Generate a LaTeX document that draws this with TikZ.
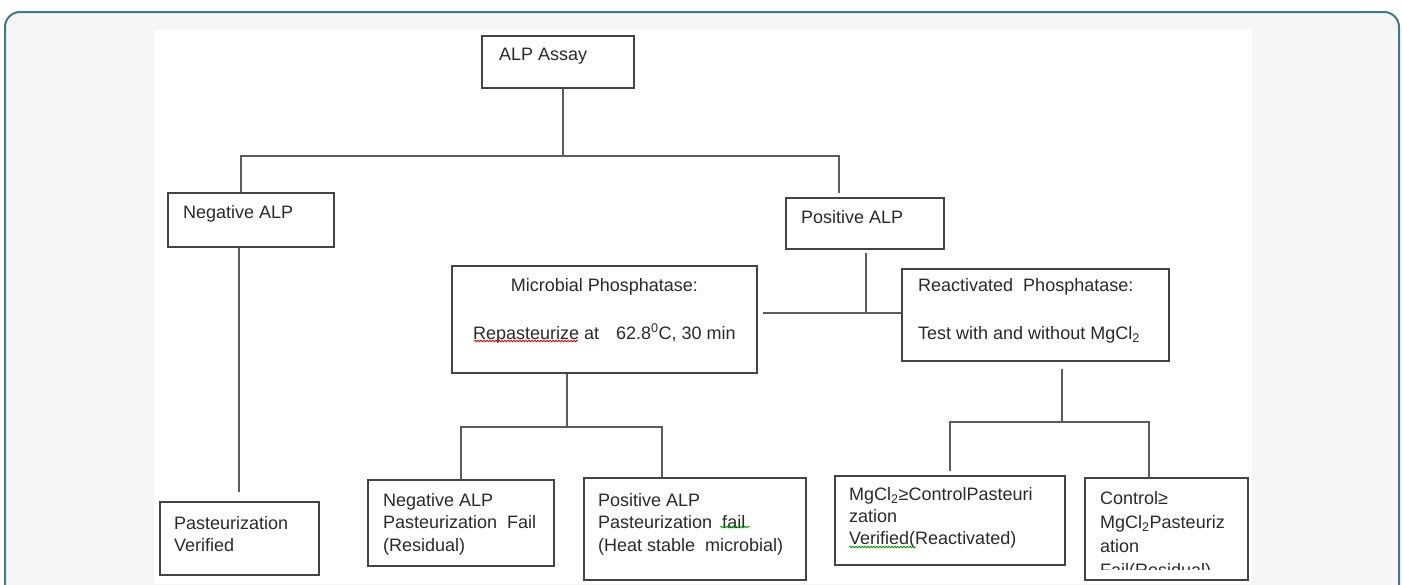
\documentclass[tikz,border=0pt]{standalone}
\usepackage{fontspec}
\setmainfont{Liberation Sans}
\usetikzlibrary{positioning,calc,decorations.pathmorphing}
\definecolor{frameline}{HTML}{3D7A8C}
\definecolor{framefill}{HTML}{F5F6F5}
\definecolor{boxline}{HTML}{444444}
\definecolor{linkline}{HTML}{5C5C5C}
\definecolor{inktext}{HTML}{2A2A2A}
\tikzstyle{stage} = [ draw = boxline, line width = 1.8pt, rectangle, anchor = north west, inner sep = 0pt]
\tikzstyle{boxtext} = [ anchor = north west, inner sep = 0pt, align = left, text = inktext, font = \fontsize{18}{22.5}\selectfont]
\tikzstyle{link} = [ draw = linkline, line width = 2pt]
\tikzstyle{squiggle} = [ decorate, decoration = {snake, amplitude = 0.8pt, segment length = 3pt}, line width = 0.8pt]

\begin{document}
\begin{tikzpicture}[x=1pt, y=-1pt]
	\useasboundingbox (0,0) rectangle (1402,584);
	\clip (0,0) rectangle (1402,584);
	\draw[frameline, fill=framefill, line width=2pt, rounded corners=15pt] (5,12) rectangle (1399,640);
	\fill[white] (154,30) rectangle (1252,584);

	% boxes
	\node[stage, minimum width=152, minimum height=52] (assay) at ( 481, 35 ) {};
	\node[stage, minimum width=166, minimum height=54] (neg) at ( 167, 192 ) {};
	\node[stage, minimum width=158, minimum height=51] (pos) at ( 785, 197 ) {};
	\node[stage, minimum width=305, minimum height=107] (micro) at ( 451, 265 ) {};
	\node[stage, minimum width=267, minimum height=92] (react) at ( 901, 268 ) {};
	\node[stage, minimum width=159, minimum height=73] (verif) at ( 159, 501 ) {};
	\node[stage, minimum width=186, minimum height=86] (negf) at ( 367, 479 ) {};
	\node[stage, minimum width=222, minimum height=102] (posf) at ( 583, 477 ) {};
	\node[stage, minimum width=230, minimum height=89] (mg) at ( 834, 475 ) {};
	\node[stage, minimum width=163, minimum height=102] (ctrl) at ( 1084, 477 ) {};

	% texts
	\node[boxtext] (assay-t) at ([shift={(18,13)}]assay.north west) {ALP Assay};
	\node[boxtext] (neg-t) at ([shift={(16,13)}]neg.north west) {Negative ALP};
	\node[boxtext] (pos-t) at ([shift={(16,13)}]pos.north west) {Positive ALP};
	\node[boxtext, anchor=north, align=center] (micro-t) at ([yshift=-13pt]micro.north) {Microbial Phosphatase:\\[25.5pt]Repasteurize at\hspace{17pt}62.8\textsuperscript{0}C, 30 min};
	\node[boxtext] (react-t) at ([shift={(17,10)}]react.north west) {Reactivated\ \ Phosphatase:\\[26pt]Test with and without MgCl\textsubscript{2}};
	\node[boxtext] (verif-t) at ([shift={(15,15)}]verif.north west) {Pasteurization\\Verified};
	\node[boxtext] (negf-t) at ([shift={(16,14)}]negf.north west) {Negative ALP\\Pasteurization\ \ Fail\\(Residual)};
	\node[boxtext] (posf-t) at ([shift={(15,16)}]posf.north west) {Positive ALP\\Pasteurization\ \ fail\\(Heat stable\ \ microbial)};
	\node[boxtext, font=\fontsize{18}{22}\selectfont] (mg-t) at ([shift={(15,12)}]mg.north west) {MgCl\textsubscript{2}≥ControlPasteuri\\zation\\Verified(Reactivated)};
	\begin{scope}
		\clip ([shift={(2,2)}]ctrl.north west) rectangle ([shift={(-2,92)}]ctrl.north east);
		\node[boxtext, font=\fontsize{18}{24}\selectfont] (ctrl-t) at ([shift={(16,14)}]ctrl.north west) {Control≥\\MgCl\textsubscript{2}Pasteuriz\\ation\\Fail(Residual)};
	\end{scope}

	% connectors
	\coordinate (split-top) at ( 563, 156 );
	\coordinate (split-pos) at ( 866, 313 );
	\coordinate (split-micro) at ( 567, 427 );
	\coordinate (split-react) at ( 1062, 422 );

	\draw[link] (assay.south -| split-top) -- (split-top);
	\draw[link] ([xshift=-10pt]neg.north) |- (split-top);
	\draw[link] ([shift={(-26,-4)}]pos.north) |- (split-top);
	\draw[link] (neg.south -| verif.north) -- ([yshift=9pt]verif.north);

	\draw[link] ([yshift=-3pt]pos.south -| split-pos) -- (split-pos);
	\draw[link] ([xshift=5pt]micro.east |- split-pos) -- (react.west |- split-pos);

	\draw[link] (micro.south -| split-micro) -- (split-micro);
	\draw[link] (negf.north) |- (split-micro);
	\draw[link] ([xshift=-33pt]posf.north) |- (split-micro);

	\draw[link] ([yshift=-7pt]react.south -| split-react) -- (split-react);
	\draw[link] ([yshift=4pt]mg.north) |- (split-react);
	\draw[link] ([xshift=-17pt]ctrl.north) |- (split-react);

	% spelling marks
	\draw[squiggle, red!85!black] (474,341) -- (578,341);
	\draw[squiggle, green!60!black] (720,527) -- (750,527);
	\draw[squiggle, green!60!black] (849,547) -- (916,547);
\end{tikzpicture}
\end{document}
